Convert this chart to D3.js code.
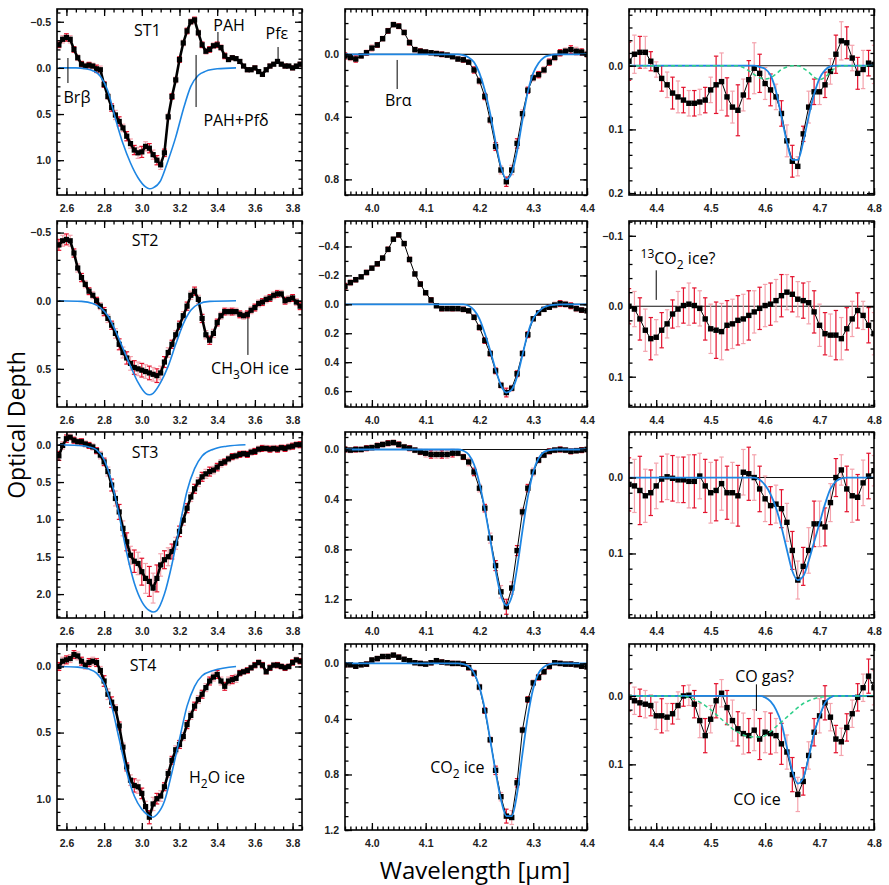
<!DOCTYPE html>
<html><head><meta charset="utf-8">
<script src="https://cdn.jsdelivr.net/npm/d3@7"></script>
<style>body{margin:0;background:#fff}svg{display:block}</style>
</head><body>
<svg id="c" width="889" height="885"></svg>
<script>
// ---------------- DATA ----------------
// wavelength grids (micron)
const W1 = [2.56,2.58,2.60,2.62,2.64,2.66,2.68,2.70,2.72,2.74,
2.76,2.78,2.80,2.82,2.84,2.86,2.88,2.90,2.92,2.94,
2.96,2.98,3.00,3.02,3.04,3.06,3.08,3.10,3.12,3.14,
3.16,3.18,3.20,3.22,3.24,3.26,3.28,3.30,3.32,3.34,
3.36,3.38,3.40,3.42,3.44,3.46,3.48,3.50,3.52,3.54,
3.56,3.58,3.60,3.62,3.64,3.66,3.68,3.70,3.72,3.74,
3.76,3.78,3.80,3.82,3.84];
const W2 = [3.95,3.96,3.97,3.98,3.99,4.00,4.01,4.02,4.03,4.04,
4.05,4.06,4.07,4.08,4.09,4.10,4.11,4.12,4.13,4.14,
4.15,4.16,4.17,4.18,4.19,4.20,4.21,4.22,4.23,4.24,
4.25,4.26,4.27,4.28,4.29,4.30,4.31,4.32,4.33,4.34,
4.35,4.36,4.37,4.38,4.39,4.40];
const W3 = [4.35,4.36,4.37,4.38,4.39,4.40,4.41,4.42,4.43,4.44,
4.45,4.46,4.47,4.48,4.49,4.50,4.51,4.52,4.53,4.54,
4.55,4.56,4.57,4.58,4.59,4.60,4.61,4.62,4.63,4.64,
4.65,4.66,4.67,4.68,4.69,4.70,4.71,4.72,4.73,4.74,
4.75,4.76,4.77,4.78,4.79,4.80];

// tick labels
const X1_TICKS = [2.6,2.8,3.0,3.2,3.4,3.6,3.8];
const X2_TICKS = [4.0,4.1,4.2,4.3,4.4];
const X3_TICKS = [4.4,4.5,4.6,4.7,4.8];
const Y_TICKS = {
  "1_1":[-0.5,0.0,0.5,1.0], "2_1":[-0.5,0.0,0.5], "3_1":[0.0,0.5,1.0,1.5,2.0], "4_1":[0.0,0.5,1.0],
  "1_2":[0.0,0.4,0.8], "2_2":[-0.4,-0.2,0.0,0.2,0.4,0.6], "3_2":[0.0,0.4,0.8,1.2], "4_2":[0.0,0.4,0.8,1.2],
  "1_3":[0.0,0.1,0.2], "2_3":[-0.1,0.0,0.1], "3_3":[0.0,0.1], "4_3":[0.0,0.1]
};

// ---- 3 micron (H2O ice) optical depth ----
const ST1_H2O = [-0.25,-0.31,-0.33,-0.31,-0.20,-0.11,-0.04,-0.02,-0.03,-0.02,
0.01,0.02,0.18,0.31,0.43,0.51,0.58,0.65,0.74,0.82,
0.89,0.92,0.91,0.85,0.87,0.94,1.00,1.05,0.92,0.53,
0.31,0.13,-0.09,-0.27,-0.40,-0.50,-0.52,-0.38,-0.25,-0.18,
-0.20,-0.24,-0.25,-0.22,-0.13,-0.09,-0.11,-0.10,-0.07,-0.02,
0.02,0.02,0.00,0.04,0.07,0.02,-0.02,-0.04,-0.07,-0.04,
-0.02,-0.02,0.00,-0.02,-0.04];
const ST1_H2O_ERR = [0.03,0.04,0.04,0.04,0.03,0.03,0.03,0.03,0.03,0.03,
0.04,0.04,0.03,0.03,0.04,0.05,0.05,0.04,0.05,0.05,
0.05,0.06,0.06,0.05,0.05,0.05,0.05,0.05,0.04,0.03,
0.03,0.03,0.03,0.03,0.03,0.03,0.03,0.03,0.03,0.03,
0.03,0.03,0.03,0.03,0.03,0.02,0.02,0.02,0.02,0.02,
0.02,0.02,0.02,0.02,0.02,0.02,0.02,0.02,0.02,0.02,
0.02,0.02,0.02,0.02,0.02];
const ST2_H2O = [-0.41,-0.44,-0.45,-0.44,-0.35,-0.24,-0.17,-0.12,-0.07,-0.04,
0.00,0.04,0.08,0.13,0.18,0.24,0.32,0.38,0.42,0.46,
0.49,0.50,0.51,0.52,0.53,0.54,0.55,0.53,0.45,0.38,
0.32,0.25,0.18,0.11,0.04,-0.04,-0.07,-0.01,0.13,0.25,
0.29,0.24,0.16,0.11,0.08,0.08,0.08,0.08,0.10,0.11,
0.10,0.07,0.05,0.02,0.01,-0.01,-0.02,-0.04,-0.05,-0.05,
0.00,-0.01,-0.02,0.01,0.04];
const ST2_H2O_ERR = [0.04,0.04,0.04,0.04,0.03,0.03,0.03,0.025,0.025,0.025,
0.025,0.025,0.03,0.03,0.03,0.035,0.04,0.04,0.045,0.05,
0.05,0.05,0.05,0.05,0.05,0.05,0.05,0.05,0.04,0.035,
0.03,0.03,0.03,0.03,0.03,0.03,0.03,0.03,0.03,0.03,
0.03,0.03,0.025,0.025,0.025,0.025,0.025,0.025,0.025,0.025,
0.025,0.025,0.025,0.025,0.025,0.025,0.025,0.025,0.025,0.025,
0.025,0.025,0.025,0.025,0.025];
const ST3_H2O = [0.15,0.01,-0.08,-0.10,-0.06,-0.04,-0.04,-0.01,0.01,0.03,
0.08,0.14,0.23,0.36,0.54,0.72,0.90,1.12,1.30,1.48,
1.56,1.59,1.70,1.79,1.83,1.92,1.79,1.61,1.54,1.50,
1.43,1.32,1.16,1.01,0.85,0.70,0.59,0.50,0.43,0.39,
0.36,0.34,0.30,0.25,0.23,0.19,0.16,0.15,0.13,0.12,
0.13,0.10,0.09,0.06,0.05,0.05,0.06,0.05,0.06,0.04,
0.05,0.03,0.02,0.00,0.00];
const ST3_H2O_ERR = [0.06,0.05,0.05,0.04,0.04,0.04,0.04,0.04,0.04,0.04,
0.04,0.05,0.05,0.06,0.08,0.10,0.10,0.10,0.12,0.12,
0.15,0.15,0.18,0.20,0.20,0.20,0.18,0.15,0.12,0.12,
0.10,0.08,0.07,0.07,0.06,0.06,0.06,0.06,0.06,0.06,
0.06,0.05,0.05,0.05,0.04,0.04,0.04,0.04,0.04,0.04,
0.04,0.04,0.04,0.04,0.04,0.04,0.04,0.04,0.04,0.04,
0.04,0.04,0.04,0.04,0.04];
const ST4_H2O = [0.00,-0.04,-0.05,-0.06,-0.09,-0.08,-0.04,-0.01,-0.03,-0.04,
-0.03,0.03,0.11,0.21,0.27,0.32,0.45,0.61,0.76,0.86,
0.90,0.91,0.96,1.06,1.14,1.04,1.00,0.98,0.91,0.81,
0.71,0.63,0.59,0.53,0.44,0.37,0.30,0.25,0.21,0.16,
0.11,0.08,0.06,0.11,0.15,0.11,0.10,0.09,0.05,0.04,
0.03,0.01,-0.01,-0.03,-0.01,0.04,0.01,-0.01,-0.01,0.00,
0.01,0.00,-0.03,-0.05,-0.04];
const ST4_H2O_ERR = [0.03,0.03,0.03,0.03,0.03,0.03,0.03,0.03,0.03,0.03,
0.03,0.03,0.04,0.04,0.04,0.03,0.03,0.03,0.03,0.04,
0.05,0.05,0.04,0.04,0.05,0.05,0.04,0.04,0.03,0.03,
0.03,0.03,0.03,0.03,0.03,0.03,0.03,0.03,0.03,0.03,
0.03,0.03,0.03,0.03,0.03,0.03,0.03,0.03,0.02,0.02,
0.02,0.02,0.02,0.02,0.02,0.02,0.02,0.02,0.02,0.02,
0.02,0.02,0.02,0.02,0.02];
// H2O ice model curves
const ST1_H2O_MX = [2.56,2.65,2.70,2.74,2.78,2.82,2.86,2.90,2.94,2.98,3.02,3.04,3.06,3.10,3.14,3.18,3.22,3.26,3.30,3.34,3.40,3.50];
const ST1_H2O_MY = [0,0,0.01,0.03,0.09,0.25,0.55,0.82,1.03,1.19,1.29,1.31,1.30,1.22,1.00,0.75,0.45,0.20,0.08,0.035,0.01,0];
const ST2_H2O_MX = [2.56,2.68,2.74,2.78,2.82,2.86,2.90,2.94,2.98,3.02,3.04,3.06,3.10,3.14,3.18,3.22,3.26,3.30,3.36,3.50];
const ST2_H2O_MY = [0,0.005,0.02,0.05,0.11,0.22,0.35,0.48,0.60,0.68,0.69,0.68,0.60,0.48,0.32,0.17,0.07,0.025,0.005,0];
const ST3_H2O_MX = [2.56,2.66,2.72,2.76,2.80,2.84,2.88,2.92,2.96,3.00,3.04,3.06,3.08,3.12,3.16,3.20,3.24,3.28,3.32,3.38,3.45,3.55];
const ST3_H2O_MY = [0,0.01,0.03,0.07,0.20,0.50,0.95,1.45,1.85,2.10,2.22,2.24,2.22,2.00,1.60,1.10,0.62,0.32,0.15,0.06,0.02,0];
const ST4_H2O_MX = [2.56,2.66,2.72,2.76,2.80,2.84,2.88,2.92,2.96,3.00,3.04,3.06,3.08,3.12,3.16,3.20,3.24,3.28,3.32,3.38,3.50];
const ST4_H2O_MY = [0,0.005,0.02,0.05,0.13,0.30,0.55,0.80,0.98,1.08,1.13,1.14,1.12,1.02,0.80,0.55,0.30,0.15,0.07,0.03,0];

// ---- 4.27 micron (CO2 ice) ----
const ST1_CO2 = [0.01,0.02,0.03,0.01,-0.01,-0.04,-0.06,-0.10,-0.15,-0.19,
-0.18,-0.14,-0.075,-0.03,-0.02,-0.015,-0.01,-0.005,0.00,0.005,
0.015,0.03,0.035,0.05,0.10,0.17,0.27,0.42,0.59,0.74,
0.815,0.74,0.57,0.38,0.23,0.15,0.13,0.10,0.05,0.02,
-0.01,-0.02,-0.03,-0.02,-0.015,0.00];
const ST1_CO2_ERR = [0.02,0.02,0.02,0.015,0.015,0.02,0.015,0.015,0.015,0.015,
0.015,0.015,0.015,0.015,0.015,0.015,0.012,0.015,0.015,0.015,
0.012,0.015,0.015,0.015,0.02,0.02,0.02,0.02,0.025,0.025,
0.03,0.03,0.03,0.025,0.02,0.02,0.02,0.02,0.02,0.02,
0.02,0.02,0.025,0.025,0.02,0.02];
const ST2_CO2 = [-0.125,-0.15,-0.17,-0.19,-0.22,-0.25,-0.28,-0.32,-0.38,-0.45,
-0.48,-0.42,-0.31,-0.21,-0.14,-0.08,-0.03,0.01,0.03,0.03,
0.03,0.03,0.035,0.045,0.09,0.16,0.25,0.34,0.46,0.56,
0.61,0.58,0.48,0.34,0.21,0.10,0.06,0.035,0.02,0.005,
-0.005,0.00,0.01,0.03,0.04,0.045];
const ST2_CO2_ERR = [0.02,0.02,0.015,0.015,0.015,0.015,0.015,0.015,0.015,0.015,
0.015,0.015,0.015,0.015,0.015,0.015,0.015,0.015,0.015,0.015,
0.015,0.015,0.015,0.015,0.015,0.02,0.02,0.02,0.02,0.02,
0.03,0.02,0.02,0.02,0.02,0.015,0.015,0.015,0.015,0.02,
0.02,0.02,0.02,0.02,0.015,0.015];
const ST3_CO2 = [0.00,0.005,0.00,0.00,-0.01,-0.015,-0.03,-0.04,-0.05,-0.055,
-0.04,-0.02,-0.01,0.005,0.02,0.03,0.04,0.04,0.04,0.04,
0.03,0.03,0.06,0.10,0.18,0.31,0.47,0.71,0.93,1.14,
1.26,1.11,0.81,0.50,0.31,0.18,0.085,0.045,0.015,0.005,
0.00,0.005,0.015,0.01,0.005,0.00];
const ST3_CO2_ERR = [0.02,0.02,0.02,0.02,0.02,0.02,0.02,0.02,0.02,0.02,
0.02,0.02,0.02,0.02,0.02,0.03,0.03,0.03,0.03,0.03,
0.03,0.02,0.02,0.03,0.03,0.03,0.03,0.04,0.04,0.05,
0.06,0.05,0.04,0.03,0.03,0.03,0.02,0.02,0.02,0.02,
0.02,0.02,0.02,0.02,0.02,0.02];
const ST4_CO2 = [0.01,0.01,0.02,0.01,0.005,-0.025,-0.035,-0.05,-0.05,-0.06,
-0.045,-0.03,-0.02,-0.005,0.00,0.005,-0.005,-0.02,-0.01,-0.005,
0.00,0.00,0.005,0.03,0.07,0.17,0.34,0.55,0.77,0.96,
1.10,1.11,0.86,0.48,0.26,0.14,0.10,0.06,0.02,-0.005,
0.00,0.005,0.005,0.01,0.02,0.025];
const ST4_CO2_ERR = [0.015,0.015,0.015,0.015,0.015,0.015,0.015,0.015,0.015,0.015,
0.015,0.015,0.015,0.015,0.015,0.015,0.015,0.015,0.015,0.015,
0.015,0.015,0.015,0.02,0.02,0.02,0.02,0.02,0.03,0.03,
0.05,0.05,0.03,0.02,0.02,0.02,0.02,0.02,0.02,0.015,
0.015,0.015,0.015,0.015,0.015,0.015];
// CO2 ice model (on W2)
const ST1_CO2_M = [0,0,0,0,0,0,0,0,0,0, 0,0,0,0,0,0,0,0,0,0,
0,0,0.005,0.02,0.05,0.12,0.23,0.38,0.56,0.72,
0.80,0.76,0.62,0.42,0.24,0.12,0.055,0.02,0.007,0, 0,0,0,0,0,0];
const ST2_CO2_M = [0,0,0,0,0,0,0,0,0,0, 0,0,0,0,0,0,0,0,0,0,
0,0,0,0.01,0.04,0.10,0.20,0.32,0.45,0.56,
0.61,0.59,0.50,0.35,0.20,0.10,0.05,0.02,0.008,0.003, 0,0,0,0,0,0];
const ST3_CO2_M = [0,0,0,0,0,0,0,0,0,0, 0,0,0,0,0,0,0,0,0,0,
0,0,0.01,0.04,0.12,0.27,0.48,0.72,0.97,1.17,
1.25,1.18,0.95,0.65,0.38,0.18,0.07,0.02,0.005,0, 0,0,0,0,0,0];
const ST4_CO2_M = [0,0,0,0,0,0,0,0,0,0, 0,0,0,0,0,0,0,0,0,0,
0,0,0.005,0.02,0.07,0.17,0.33,0.55,0.78,0.98,
1.10,1.10,0.94,0.65,0.38,0.18,0.07,0.025,0.005,0, 0,0,0,0,0,0];

// ---- 4.67 micron (CO) ----
const ST1_CO = [-0.007,-0.018,-0.021,-0.021,-0.007,0.006,0.02,0.03,0.043,0.049,
0.054,0.059,0.059,0.057,0.054,0.038,0.03,0.025,0.049,0.065,
0.07,0.046,0.022,0.004,0.012,0.028,0.038,0.049,0.075,0.118,
0.15,0.158,0.107,0.065,0.041,0.041,0.03,0.009,-0.018,-0.039,
-0.036,-0.012,0.012,0.006,-0.004,-0.002];
const ST1_CO_ERR = [0.03,0.03,0.025,0.025,0.015,0.012,0.02,0.02,0.025,0.025,
0.02,0.02,0.02,0.02,0.02,0.02,0.045,0.045,0.03,0.025,
0.04,0.025,0.03,0.04,0.03,0.025,0.025,0.02,0.02,0.025,
0.025,0.015,0.012,0.025,0.02,0.02,0.02,0.02,0.03,0.03,
0.025,0.02,0.025,0.03,0.02,0.03];
const ST2_CO = [0.0,0.004,0.018,0.034,0.046,0.044,0.034,0.025,0.011,0.004,
-0.001,-0.003,-0.001,0.003,0.018,0.032,0.034,0.036,0.027,0.025,
0.02,0.018,0.013,0.008,0.003,-0.001,-0.003,-0.008,-0.015,-0.02,
-0.017,-0.01,-0.008,-0.005,0.008,0.027,0.039,0.041,0.041,0.046,
0.032,0.018,0.006,0.013,0.027,0.039];
const ST2_CO_ERR = [0.025,0.025,0.03,0.03,0.03,0.025,0.025,0.02,0.02,0.025,
0.025,0.03,0.025,0.025,0.03,0.035,0.04,0.04,0.035,0.035,
0.035,0.035,0.035,0.03,0.03,0.03,0.03,0.03,0.03,0.025,
0.025,0.025,0.025,0.03,0.03,0.03,0.03,0.03,0.035,0.03,
0.03,0.025,0.025,0.02,0.025,0.03];
const ST3_CO = [0.009,0.011,0.017,0.024,0.02,0.011,0.002,-0.001,0.001,0.003,
0.003,0.005,0.005,-0.002,0.011,0.02,0.017,0.008,0.02,0.02,
0.024,-0.007,-0.005,0.0,0.015,0.028,0.037,0.035,0.041,0.059,
0.096,0.135,0.117,0.096,0.061,0.061,0.065,0.033,0.0,-0.01,
0.015,0.024,0.026,0.007,-0.002,-0.009];
const ST3_CO_ERR = [0.035,0.035,0.045,0.035,0.03,0.03,0.03,0.03,0.03,0.03,
0.03,0.035,0.035,0.03,0.035,0.04,0.04,0.035,0.035,0.04,
0.04,0.03,0.035,0.03,0.03,0.03,0.025,0.025,0.025,0.025,
0.025,0.025,0.025,0.03,0.03,0.03,0.025,0.025,0.025,0.02,
0.03,0.035,0.03,0.03,0.03,0.02];
const ST4_CO = [0.002,0.007,0.01,0.012,0.014,0.029,0.029,0.031,0.026,0.014,
0.0,-0.001,0.012,0.036,0.058,0.034,0.007,-0.004,0.017,0.036,
0.048,0.055,0.058,0.05,0.063,0.053,0.055,0.058,0.07,0.082,
0.115,0.144,0.125,0.087,0.053,0.029,0.01,0.031,0.063,0.067,
0.046,0.026,0.002,-0.012,-0.029,-0.012];
const ST4_CO_ERR = [0.02,0.02,0.02,0.02,0.015,0.02,0.025,0.02,0.015,0.02,
0.015,0.015,0.02,0.025,0.025,0.02,0.025,0.02,0.025,0.03,
0.025,0.03,0.025,0.03,0.03,0.03,0.03,0.025,0.03,0.025,
0.025,0.025,0.02,0.02,0.02,0.025,0.025,0.02,0.02,0.02,
0.02,0.02,0.02,0.02,0.025,0.025];
// CO ice model (blue) and CO gas model (green) on W3
const ST1_CO_M = [0,0,0,0,0,0,0,0,0,0, 0,0,0,0,0,0,0,0,0,0,
0,0,0,0,0.002,0.005,0.015,0.04,0.08,0.12,
0.148,0.148,0.12,0.08,0.045,0.02,0.007,0.001,0,0, 0,0,0,0,0,0];
const ST3_CO_M = [0,0,0,0,0,0,0,0,0,0, 0,0,0,0,0,0,0,0,0,0,
0,0,0,0,0.003,0.01,0.022,0.04,0.065,0.095,
0.123,0.135,0.13,0.11,0.085,0.06,0.035,0.015,0.005,0.001, 0,0,0,0,0,0];
const ST4_CO_M = [0,0,0,0,0,0,0,0,0,0, 0,0,0,0,0,0,0,0,0,0,
0,0,0,0,0,0.002,0.008,0.02,0.04,0.075,
0.11,0.128,0.12,0.09,0.055,0.03,0.01,0.002,0,0, 0,0,0,0,0,0];
const ST1_COGAS = [0,0,0,0,0,0,0,0,0,0, 0,0,0,0,0,0,0,0,0,0,
0,0.003,0.008,0.014,0.019,0.021,0.019,0.013,0.006,0.002,
0,0,0.004,0.01,0.018,0.022,0.018,0.01,0.003,0, 0,0,0,0,0,0];
const ST4_COGAS = [0,0,0,0,0,0,0,0,0,0,
0,0.002,0.005,0.009,0.014,0.02,0.027,0.034,0.041,0.048,
0.053,0.057,0.059,0.06,0.06,0.058,0.052,0.045,0.038,0.031,
0.024,0.017,0.011,0.007,0.004,0.002,0.001,0,0,0, 0,0,0,0,0,0];

// ---------------- LAYOUT ----------------
const COLS = [
  {x0:57,  x1:302, dom:[2.55,3.85], major:X1_TICKS, minor:0.05, grid:W1, sq:5.2, lw:2.6, cap:2.4},
  {x0:345, x1:587, dom:[3.95,4.40], major:X2_TICKS, minor:0.01, grid:W2, sq:5.4, lw:1, cap:2.2},
  {x0:629, x1:874, dom:[4.35,4.80], major:X3_TICKS, minor:0.01, grid:W3, sq:5.4, lw:1, cap:2.2}
];
const ROW_TOP = [9, 221, 432, 644];
const PH = 186;

const PANELS = [
 {r:0,c:0,key:"1_1",yd:[-0.638,1.377],ym:0.1,v:ST1_H2O,e:ST1_H2O_ERR,mx:ST1_H2O_MX,my:ST1_H2O_MY,
  ann:[{t:[["ST1"]],at:[3.03,-0.41]},{t:[["PAH"]],at:[3.463,-0.465],ln:[3.404,-0.389,-0.28]},
       {t:[["Pfε"]],at:[3.717,-0.378],ln:[3.723,-0.226,-0.064]},{t:[["Brβ"]],at:[2.656,0.315],ln:[2.608,-0.107,0.164]},
       {t:[["PAH+Pfδ"]],at:[3.50,0.565],ln:[3.288,-0.14,0.424]}]},
 {r:1,c:0,key:"2_1",yd:[-0.585,0.78],ym:0.1,v:ST2_H2O,e:ST2_H2O_ERR,mx:ST2_H2O_MX,my:ST2_H2O_MY,
  ann:[{t:[["ST2"]],at:[3.017,-0.446]},{t:[["CH"],["3","sub"],["OH ice"]],at:[3.574,0.493],ln:[3.563,0.105,0.398]}]},
 {r:2,c:0,key:"3_1",yd:[-0.17,2.32],ym:0.1,v:ST3_H2O,e:ST3_H2O_ERR,mx:ST3_H2O_MX,my:ST3_H2O_MY,
  ann:[{t:[["ST3"]],at:[3.017,0.098]}]},
 {r:3,c:0,key:"4_1",yd:[-0.17,1.237],ym:0.1,v:ST4_H2O,e:ST4_H2O_ERR,mx:ST4_H2O_MX,my:ST4_H2O_MY,
  ann:[{t:[["ST4"]],at:[3.007,-0.011]},{t:[["H"],["2","sub"],["O ice"]],at:[3.399,0.836]}]},
 {r:0,c:1,key:"1_2",yd:[-0.29,0.90],ym:0.1,v:ST1_CO2,e:ST1_CO2_ERR,m:ST1_CO2_M,zero:true,
  ann:[{t:[["Brα"]],at:[4.049,0.292],ln:[4.047,0.036,0.222]}]},
 {r:1,c:1,key:"2_2",yd:[-0.576,0.71],ym:0.1,v:ST2_CO2,e:ST2_CO2_ERR,m:ST2_CO2_M,zero:true,ann:[]},
 {r:2,c:1,key:"3_2",yd:[-0.14,1.35],ym:0.1,v:ST3_CO2,e:ST3_CO2_ERR,m:ST3_CO2_M,zero:true,ann:[]},
 {r:3,c:1,key:"4_2",yd:[-0.14,1.20],ym:0.1,v:ST4_CO2,e:ST4_CO2_ERR,m:ST4_CO2_M,zero:true,
  ann:[{t:[["CO"],["2","sub"],[" ice"]],at:[4.159,0.744]}]},
 {r:0,c:2,key:"1_3",yd:[-0.089,0.203],ym:0.02,v:ST1_CO,e:ST1_CO_ERR,m:ST1_CO_M,g:ST1_COGAS,zero:true,ann:[]},
 {r:1,c:2,key:"2_3",yd:[-0.121,0.143],ym:0.02,v:ST2_CO,e:ST2_CO_ERR,zero:true,
  ann:[{t:[["13","sup"],["CO"],["2","sub"],[" ice?"]],at:[4.44,-0.068],ln:[4.40,-0.051,-0.009]}]},
 {r:2,c:2,key:"3_3",yd:[-0.06,0.185],ym:0.02,v:ST3_CO,e:ST3_CO_ERR,m:ST3_CO_M,zero:true,ann:[]},
 {r:3,c:2,key:"4_3",yd:[-0.076,0.196],ym:0.02,v:ST4_CO,e:ST4_CO_ERR,m:ST4_CO_M,g:ST4_COGAS,zero:true,
  ann:[{t:[["CO gas?"]],at:[4.599,-0.029],ln:[4.584,-0.017,0.022]},{t:[["CO ice"]],at:[4.585,0.151]}]}
];

const BLUE = "#1e86e3", GREEN = "#2fcf8a", RED = "#e3122d", PINK = "#f4a3ad";
const TICKFONT = "'Liberation Sans', Arial, sans-serif";
const ANNFONT = "'Open Sans', 'Noto Sans', sans-serif";

const svg = d3.select("#c");
svg.append("rect").attr("width",889).attr("height",885).attr("fill","#fff");
const defs = svg.append("defs");

function minorVals(d0, d1, step) {
  const lo = Math.min(d0,d1), hi = Math.max(d0,d1);
  const a = Math.ceil(lo/step - 1e-6), b = Math.floor(hi/step + 1e-6);
  return d3.range(a, b+1).map(i => +(i*step).toFixed(4));
}

PANELS.forEach((p, idx) => {
  const col = COLS[p.c];
  const top = ROW_TOP[p.r], bot = top + PH;
  const x = d3.scaleLinear().domain(col.dom).range([col.x0, col.x1]);
  const y = d3.scaleLinear().domain(p.yd).range([top, bot]);
  const g = svg.append("g");
  const cid = "clip" + idx;
  defs.append("clipPath").attr("id", cid).append("rect")
    .attr("x", col.x0).attr("y", top).attr("width", col.x1 - col.x0).attr("height", PH);
  const pg = g.append("g").attr("clip-path", `url(#${cid})`);
  const pts = col.grid.map((w,i) => ({w, v:p.v[i], e:(p.e && p.e[i] != null) ? p.e[i] : 0, i}));

  if (p.zero) {
    pg.append("line").attr("x1", col.x0).attr("x2", col.x1).attr("y1", y(0)).attr("y2", y(0))
      .attr("stroke", "#111").attr("stroke-width", 1.1);
  }
  // error bars
  const eb = pg.append("g");
  const cap = col.cap;
  pts.forEach(d => {
    const col_ = d.i % 2 ? PINK : RED;
    const xx = x(d.w), y1 = y(d.v - d.e), y2 = y(d.v + d.e);
    eb.append("line").attr("x1",xx).attr("x2",xx).attr("y1",y1).attr("y2",y2).attr("stroke",col_).attr("stroke-width",1.2);
    eb.append("line").attr("x1",xx-cap).attr("x2",xx+cap).attr("y1",y1).attr("y2",y1).attr("stroke",col_).attr("stroke-width",1.2);
    eb.append("line").attr("x1",xx-cap).attr("x2",xx+cap).attr("y1",y2).attr("y2",y2).attr("stroke",col_).attr("stroke-width",1.2);
  });
  // data line + squares
  pg.append("path").datum(pts).attr("fill","none").attr("stroke","#000").attr("stroke-width", col.lw)
    .attr("d", d3.line().x(d => x(d.w)).y(d => y(d.v)));
  pg.selectAll("rect.sq").data(pts).enter().append("rect").attr("class","sq")
    .attr("x", d => x(d.w) - col.sq/2).attr("y", d => y(d.v) - col.sq/2)
    .attr("width", col.sq).attr("height", col.sq).attr("fill", "#000");
  // blue model
  let model = null;
  if (p.mx) model = p.mx.map((w,i) => ({w, v:p.my[i]}));
  else if (p.m) model = col.grid.map((w,i) => ({w, v:p.m[i]}));
  if (model) {
    pg.append("path").datum(model).attr("fill","none").attr("stroke",BLUE)
      .attr("stroke-width", p.c === 0 ? 1.6 : 1.8)
      .attr("d", d3.line().curve(d3.curveMonotoneX).x(d => x(d.w)).y(d => y(d.v)));
  }
  if (p.g) {
    const gm = col.grid.map((w,i) => ({w, v:p.g[i]}));
    pg.append("path").datum(gm).attr("fill","none").attr("stroke",GREEN).attr("stroke-width",1.5)
      .attr("stroke-dasharray","4,3")
      .attr("d", d3.line().curve(d3.curveMonotoneX).x(d => x(d.w)).y(d => y(d.v)));
  }

  // axes with inward ticks on all four sides
  const xMinor = minorVals(col.dom[0], col.dom[1], col.minor);
  const yMinor = minorVals(p.yd[0], p.yd[1], p.ym);
  const yMajor = Y_TICKS[p.key];
  const fmt = d3.format(".1f");
  const ax = g.append("g").attr("class","axes");
  ax.append("g").attr("transform",`translate(0,${bot})`)
    .call(d3.axisBottom(x).tickValues(xMinor).tickSizeInner(-3.5).tickSizeOuter(0).tickFormat(""));
  ax.append("g").attr("transform",`translate(0,${top})`)
    .call(d3.axisTop(x).tickValues(xMinor).tickSizeInner(-3.5).tickSizeOuter(0).tickFormat(""));
  ax.append("g").attr("transform",`translate(0,${bot})`)
    .call(d3.axisBottom(x).tickValues(col.major).tickSizeInner(-7).tickSizeOuter(0).tickPadding(10).tickFormat(fmt));
  ax.append("g").attr("transform",`translate(0,${top})`)
    .call(d3.axisTop(x).tickValues(col.major).tickSizeInner(-7).tickSizeOuter(0).tickFormat(""));
  ax.append("g").attr("transform",`translate(${col.x0},0)`)
    .call(d3.axisLeft(y).tickValues(yMinor).tickSizeInner(-3.5).tickSizeOuter(0).tickFormat(""));
  ax.append("g").attr("transform",`translate(${col.x1},0)`)
    .call(d3.axisRight(y).tickValues(yMinor).tickSizeInner(-3.5).tickSizeOuter(0).tickFormat(""));
  ax.append("g").attr("transform",`translate(${col.x0},0)`)
    .call(d3.axisLeft(y).tickValues(yMajor).tickSizeInner(-7).tickSizeOuter(0).tickPadding(6).tickFormat(fmt));
  ax.append("g").attr("transform",`translate(${col.x1},0)`)
    .call(d3.axisRight(y).tickValues(yMajor).tickSizeInner(-7).tickSizeOuter(0).tickFormat(""));
  ax.selectAll(".domain").remove();
  ax.selectAll(".tick line").attr("stroke","#000").attr("stroke-width",1.3);
  ax.selectAll(".tick text").attr("font-family",TICKFONT).attr("font-size","10.5px")
    .attr("font-weight","bold").attr("fill","#222");

  // frame
  g.append("rect").attr("x",col.x0).attr("y",top).attr("width",col.x1-col.x0).attr("height",PH)
    .attr("fill","none").attr("stroke","#000").attr("stroke-width",1.6);

  // annotations
  p.ann.forEach(a => {
    if (a.ln) {
      g.append("line").attr("x1",x(a.ln[0])).attr("x2",x(a.ln[0])).attr("y1",y(a.ln[1])).attr("y2",y(a.ln[2]))
        .attr("stroke","#000").attr("stroke-width",1);
    }
    const t = g.append("text").attr("x",x(a.at[0])).attr("y",y(a.at[1]) + 6)
      .attr("text-anchor","middle").attr("font-family",ANNFONT).attr("font-size","16px").attr("fill","#000");
    let shift = 0;
    a.t.forEach(part => {
      const ts = t.append("tspan").text(part[0]);
      let target = 0;
      if (part[1] === "sub") { target = 5; ts.attr("font-size","12px"); }
      if (part[1] === "sup") { target = -6; ts.attr("font-size","12px"); }
      if (target !== shift) { ts.attr("dy", target - shift); shift = target; }
    });
  });
});

// global axis titles
svg.append("text").attr("x",475).attr("y",879).attr("text-anchor","middle")
  .attr("font-family",ANNFONT).attr("font-size","24px").attr("fill","#000")
  .text("Wavelength [μm]");
svg.append("text").attr("transform","translate(25,425) rotate(-90)").attr("text-anchor","middle")
  .attr("font-family",ANNFONT).attr("font-size","23px").attr("fill","#000")
  .text("Optical Depth");
</script>
</body></html>
